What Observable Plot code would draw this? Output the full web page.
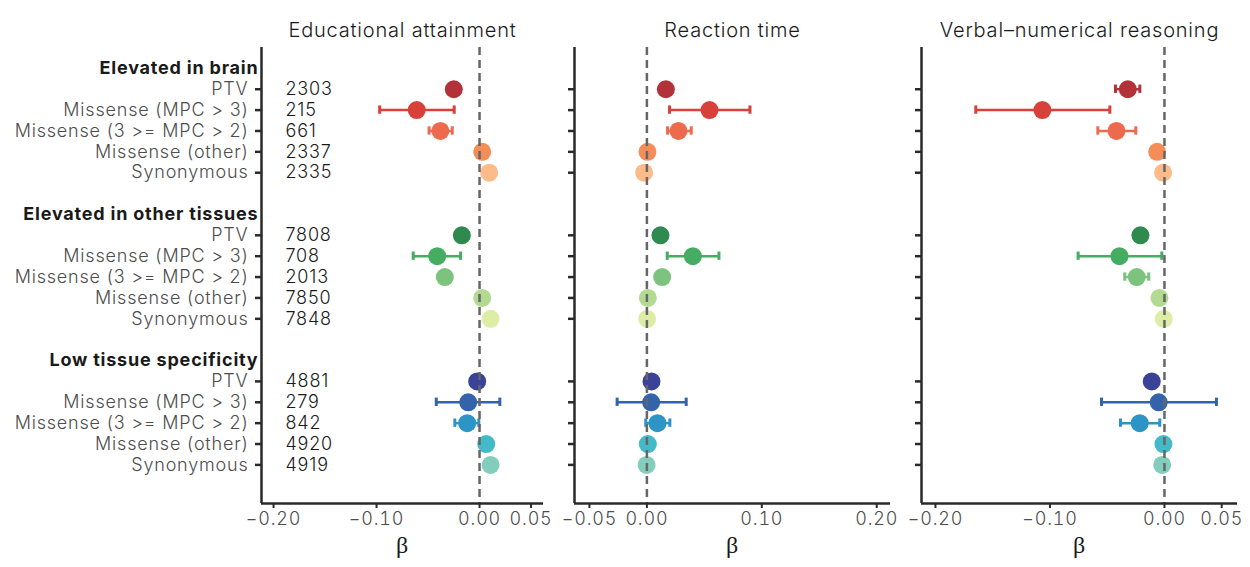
<!DOCTYPE html>
<html>
<head>
<meta charset="utf-8">
<script src="https://cdn.jsdelivr.net/npm/d3@7"></script>
<script src="https://cdn.jsdelivr.net/npm/@observablehq/plot@0.6"></script>
<style>
  html, body { margin: 0; padding: 0; background: #fff; }
  #chart { position: relative; width: 1250px; height: 567px; overflow: hidden; }
  #chart svg { position: absolute; top: 0; font-weight: 300; letter-spacing: 0.8px; }
</style>
</head>
<body>
<div id="chart"></div>
<script>
// ---- data ----
const groups = ["Elevated in brain", "Elevated in other tissues", "Low tissue specificity"];
const variantTypes = ["PTV", "Missense (MPC > 3)", "Missense (3 >= MPC > 2)", "Missense (other)", "Synonymous"];
const counts = [2303, 215, 661, 2337, 2335, 7808, 708, 2013, 7850, 7848, 4881, 279, 842, 4920, 4919];
const colors = [
  "#B2323A", "#D8413A", "#EE6A4F", "#F58D59", "#FCBB88",
  "#2E8A4E", "#45AD62", "#7CC47D", "#B2DA90", "#DDEDA5",
  "#3A4398", "#3263AB", "#2D95C6", "#44B9C7", "#83CDBC"
];
const traits = ["Educational attainment", "Reaction time", "Verbal\u2013numerical reasoning"];

const eaEst = [-0.025, -0.061, -0.038, 0.0026, 0.0094, -0.0172, -0.0411, -0.0337, 0.0026, 0.0107, -0.0023, -0.011, -0.012, 0.0065, 0.0107];
const eaLo  = [-0.028, -0.097, -0.049, -0.0004, 0.0064, -0.0202, -0.0644, -0.0367, -0.0004, 0.0077, -0.0053, -0.042, -0.024, 0.0035, 0.0077];
const eaHi  = [-0.022, -0.0246, -0.0265, 0.0056, 0.0124, -0.0142, -0.0184, -0.0307, 0.0056, 0.0137, 0.0007, 0.0197, -0.0007, 0.0095, 0.0137];

const rtEst = [0.0165, 0.0545, 0.0275, 0.0005, -0.0024, 0.0118, 0.040, 0.0133, 0.0008, 0.0002, 0.004, 0.0037, 0.0092, 0.0008, -0.0003];
const rtLo  = [0.0135, 0.0197, 0.018, -0.0025, -0.0054, 0.0088, 0.0177, 0.0103, -0.0022, -0.0028, 0.001, -0.0259, -0.001, -0.0022, -0.0033];
const rtHi  = [0.0195, 0.0897, 0.0386, 0.0035, 0.0006, 0.0148, 0.0627, 0.0163, 0.0038, 0.0032, 0.007, 0.0342, 0.020, 0.0038, 0.0027];

const vnEst = [-0.032, -0.1066, -0.0419, -0.0064, -0.0012, -0.021, -0.0393, -0.0242, -0.0044, -0.0006, -0.0111, -0.005, -0.0216, -0.0009, -0.002];
const vnLo  = [-0.0428, -0.1648, -0.0582, -0.0094, -0.0042, -0.024, -0.0754, -0.0347, -0.0074, -0.0036, -0.0141, -0.055, -0.0384, -0.0039, -0.005];
const vnHi  = [-0.0215, -0.0477, -0.025, -0.0034, 0.0018, -0.018, -0.0023, -0.0137, -0.0014, 0.0024, -0.0081, 0.0454, -0.0041, 0.0021, 0.001];

const xTicks1 = [-0.2, -0.1, 0, 0.05];
const xTicks2 = [-0.05, 0, 0.1, 0.2];
const xTicks3 = [-0.2, -0.1, 0, 0.05];

// ---- layout rows (header, 5 types, blank gap per group) ----
const rows = counts.map((c, i) => {
  const g = Math.floor(i / 5), t = i % 5;
  return { i, g, t, row: 2 + g * 7 + t, label: variantTypes[t], count: c, color: colors[i] };
});
const headers = groups.map((g, j) => ({ label: g, row: 1 + j * 7 }));
const yDomain = [0, 21.85];

const FONT = "Inter, 'Liberation Sans', Arial, sans-serif";
const AXIS = "#2a2a2a";

function panel({ left, width, marginLeft, marginRight, xDomain, ticks, title, est, lo, hi, labels }) {
  const data = rows.map(r => ({ ...r, est: est[r.i], lo: lo[r.i], hi: hi[r.i] }));
  const marks = [
    Plot.ruleY(data, { x1: "lo", x2: "hi", y: "row", stroke: "color", strokeWidth: 2.5 }),
    Plot.ruleX(data, { x: "lo", y1: d => d.row - 0.2, y2: d => d.row + 0.2, stroke: "color", strokeWidth: 3 }),
    Plot.ruleX(data, { x: "hi", y1: d => d.row - 0.2, y2: d => d.row + 0.2, stroke: "color", strokeWidth: 3 }),
    Plot.dot(data, { x: "est", y: "row", r: 9, fill: "color", stroke: null }),
    Plot.ruleX([0], { stroke: "#666", strokeWidth: 2.5, strokeDasharray: "8,5" }),
    Plot.ruleX([xDomain[0]], { stroke: AXIS, strokeWidth: 2.5 }),
    Plot.ruleY([yDomain[1]], { stroke: AXIS, strokeWidth: 2.5 }),
    Plot.axisX({ ticks, tickFormat: d3.format(".2f"), tickSize: 5, tickPadding: 4, fontSize: 18,
                 stroke: AXIS, fill: "#4d4d4d", strokeWidth: 2, label: null }),
    Plot.axisY({ ticks: rows.map(r => r.row), tickFormat: () => "", tickSize: 6, tickPadding: 0,
                 stroke: AXIS, strokeWidth: 2.5, label: null }),
    Plot.text([title], { frameAnchor: "top", dy: -25, fontSize: 20, fill: "#1a1a1a" }),
    Plot.text(["\u03B2"], { frameAnchor: "bottom", dy: 49, fontSize: 24, fill: "#1a1a1a", fontFamily: "'Liberation Serif', serif" })
  ];
  if (labels) {
    marks.push(
      Plot.text(data, { y: "row", text: "label", frameAnchor: "left", dx: -13, textAnchor: "end", fontSize: 18, fill: "#4d4d4d" }),
      Plot.text(headers, { y: "row", text: "label", frameAnchor: "left", dx: -3, textAnchor: "end", fontSize: 18, fontWeight: "bold", fill: "#1a1a1a" }),
      Plot.text(data, { y: "row", text: d => String(d.count), frameAnchor: "left", dx: 24, textAnchor: "start", fontSize: 18, fill: "#1a1a1a" })
    );
  }
  const svg = Plot.plot({
    width, height: 567,
    marginTop: 47, marginBottom: 64, marginLeft, marginRight,
    x: { domain: xDomain },
    y: { domain: yDomain, reverse: true },
    style: { fontFamily: FONT, background: "transparent", overflow: "visible" },
    marks
  });
  svg.style.left = left + "px";
  return svg;
}

const chart = document.getElementById("chart");
chart.appendChild(panel({ left: 0, width: 560, marginLeft: 261, marginRight: 17,
  xDomain: [-0.2117, 0.0621], ticks: xTicks1, title: traits[0], est: eaEst, lo: eaLo, hi: eaHi, labels: true }));
chart.appendChild(panel({ left: 560, width: 340, marginLeft: 14, marginRight: 10,
  xDomain: [-0.063, 0.212], ticks: xTicks2, title: traits[1], est: rtEst, lo: rtLo, hi: rtHi, labels: false }));
chart.appendChild(panel({ left: 900, width: 350, marginLeft: 21, marginRight: 13,
  xDomain: [-0.2122, 0.0638], ticks: xTicks3, title: traits[2], est: vnEst, lo: vnLo, hi: vnHi, labels: false }));
</script>
</body>
</html>
